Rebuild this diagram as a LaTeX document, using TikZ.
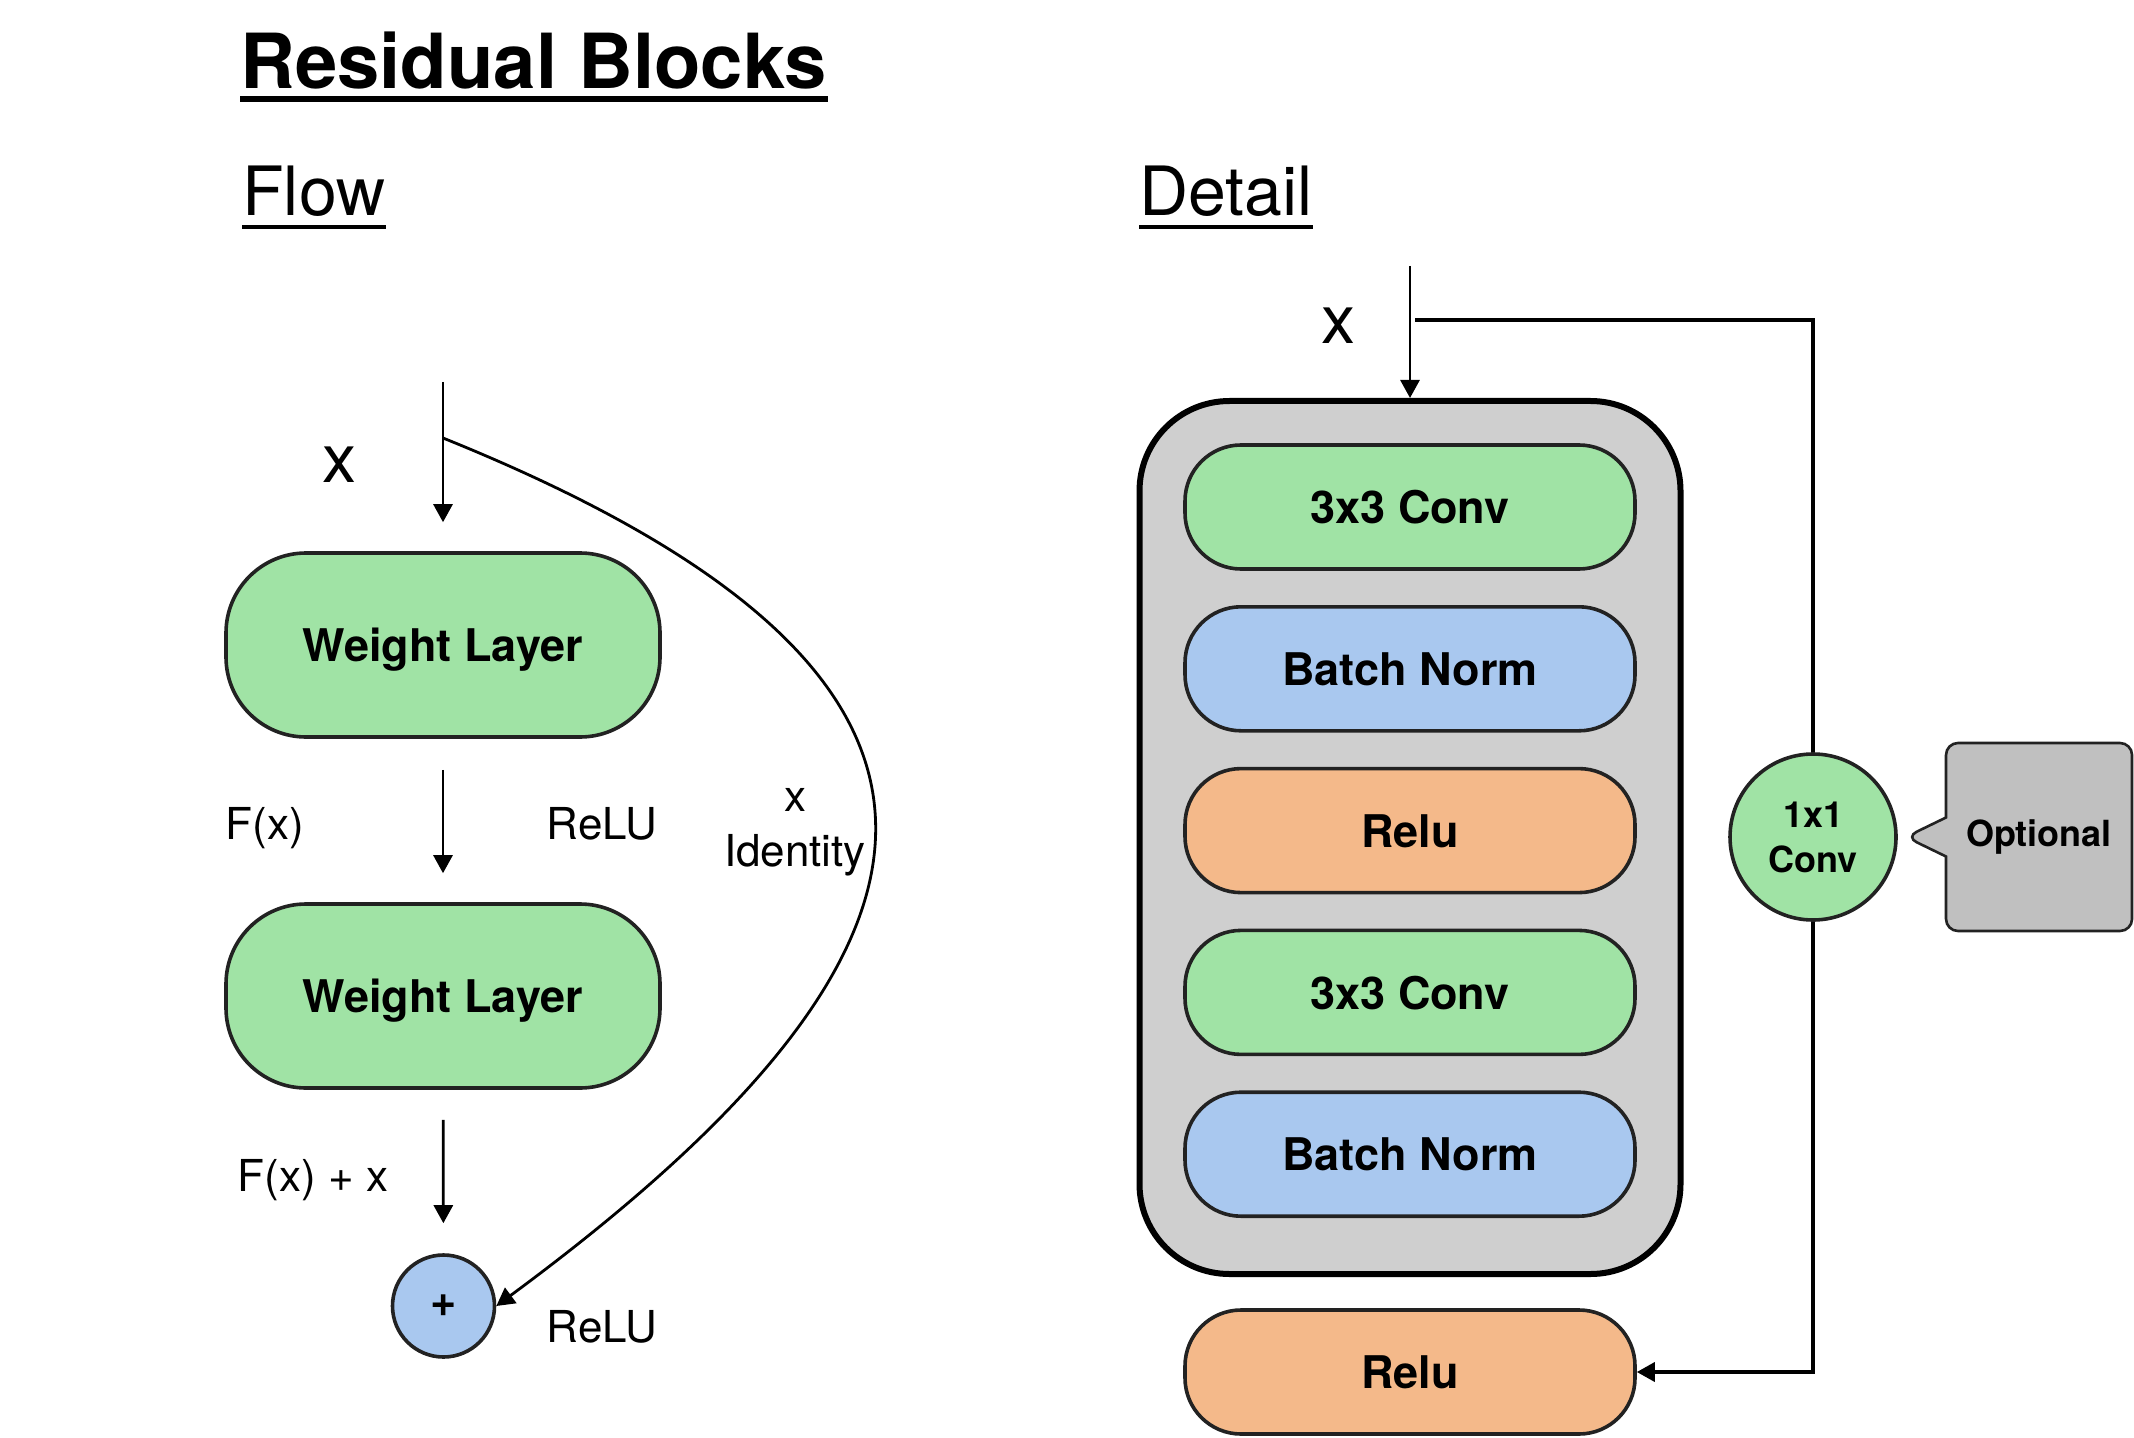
\documentclass[tikz,border=0pt]{standalone}
\usepackage{fontspec}
\setmainfont{TeX Gyre Heros}
\usetikzlibrary{arrows.meta,chains,positioning,shapes.callouts}
\definecolor{layergreen}{RGB}{160,227,165}
\definecolor{normblue}{RGB}{169,200,239}
\definecolor{reluorange}{RGB}{244,185,138}
\definecolor{framegrey}{RGB}{207,207,207}
\definecolor{notegrey}{RGB}{192,192,192}
\definecolor{edgedark}{RGB}{34,34,34}
\tikzstyle{heading}=[inner sep=0pt,font=\fontsize{34}{40}\selectfont]
\tikzstyle{lbl}=[inner sep=0pt,font=\fontsize{22}{26}\selectfont,anchor=base]
\tikzstyle{flowbox}=[draw=edgedark,line width=1.8pt,fill=layergreen,minimum width=217pt,minimum height=92pt,rounded corners=40pt,font=\fontsize{22.5}{27}\selectfont\bfseries,text depth=0pt]
\tikzstyle{layer}=[draw=edgedark,line width=1.8pt,minimum width=225pt,minimum height=62pt,rounded corners=28pt,font=\fontsize{22.5}{27}\selectfont\bfseries,text depth=0pt]
\tikzstyle{conv}=[layer,fill=layergreen]
\tikzstyle{norm}=[layer,fill=normblue]
\tikzstyle{relu}=[layer,fill=reluorange]
\tikzstyle{blockframe}=[draw=black,line width=3pt,fill=framegrey,rounded corners=45pt,minimum width=270.5pt,minimum height=436.5pt]
\tikzstyle{link}=[line width=1.4pt,-{Triangle[length=9pt,width=9.5pt]}]
\tikzstyle{shortcut}=[line width=1.8pt]

\begin{document}
\begin{tikzpicture}[x=0.5pt,y=-0.5pt]
\useasboundingbox (0,0) rectangle (2134,1438);
\node[anchor=base west,inner sep=0pt,font=\fontsize{38}{44}\selectfont\bfseries] (title) at (240,89) {Residual Blocks};
\draw[line width=3pt] ([yshift=-4.5pt]title.south west) -- ([yshift=-4.5pt]title.south east);
\node[heading,anchor=base west] (flow) at (242,216) {Flow};
\draw[line width=2pt] ([yshift=-5pt]flow.south west) -- ([yshift=-5pt]flow.south east);
\node[heading,anchor=base west] (detail) at (1139,216) {Detail};
\draw[line width=2pt] ([yshift=-5pt]detail.south west) -- ([yshift=-5pt]detail.south east);

\coordinate (xin) at (443,382);
\coordinate (xsplit) at (443,438);
\node[heading,anchor=base] (xflow) at (339,482) {x};
\node[flowbox] (wl1) at (443,645) {Weight Layer};
\node[flowbox] (wl2) at (443,996) {Weight Layer};
\node[circle,draw=edgedark,line width=1.8pt,fill=normblue,minimum size=51pt,inner sep=0pt,font=\fontsize{22.5}{27}\selectfont\bfseries] (plus) at (443.5,1306) {+};
\node[lbl] (fx) at (265,839) {F(x)};
\node[lbl] (relu1) at (602,839) {ReLU};
\node[lbl] (idx) at (795,811) {x};
\node[lbl] (ident) at (795,866) {Identity};
\node[lbl] (fxx) at (313,1191) {F(x) + x};
\node[lbl] (relu2) at (602,1342) {ReLU};
\draw[link,shorten >=14.5pt] (xin) -- (wl1);
\draw[link,shorten <=15.5pt,shorten >=14.5pt] (wl1) -- (wl2);
\draw[link,shorten <=15pt,shorten >=15pt] (wl2) -- (plus);
\draw[link] (xsplit) .. controls +(590,238) and +(488,-360) .. (plus.east);

\coordinate (xdet) at (1410,266);
\coordinate (xtap) at (1415,320);
\node[heading,anchor=base] (xdetail) at (1338,344) {x};
\node[blockframe] (block) at (1410,837.5) {};
\begin{scope}[start chain=1 going below,node distance=17.1pt]
    \node [on chain=1,conv] (conva) at (1410,507) {3x3 Conv};
    \node [on chain=1,norm] (norma) {Batch Norm};
    \node [on chain=1,relu] (relua) {Relu};
    \node [on chain=1,conv] (convb) {3x3 Conv};
    \node [on chain=1,norm] (normb) {Batch Norm};
\end{scope}
\node[relu] (reluout) at (1410,1372) {Relu};
\node[circle,draw=edgedark,line width=1.8pt,fill=layergreen,minimum size=83pt,inner sep=0pt,align=center,font=\fontsize{18}{22.5}\selectfont\bfseries] (conv1) at (1813,837) {1x1\\Conv};
\node[rectangle callout,draw=edgedark,line width=1.3pt,fill=notegrey,minimum width=93pt,minimum height=94pt,rounded corners=6pt,callout absolute pointer={([xshift=4pt]conv1.east)},callout pointer width=19.5pt,font=\fontsize{18}{22}\selectfont\bfseries] (note) at (2039,837) {Optional};
\draw[link] (xdet) -- (block);
\draw[shortcut] (xtap) -| (conv1);
\draw[shortcut,-{Triangle[length=9pt,width=9.5pt]}] (conv1) |- (reluout);
\end{tikzpicture}
\end{document}
